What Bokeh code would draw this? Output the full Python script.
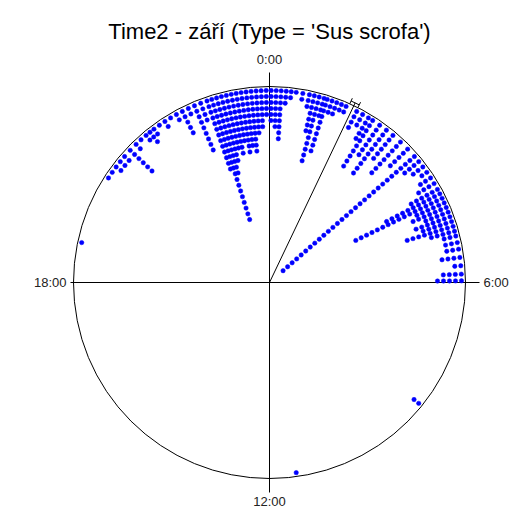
import math
from bokeh.plotting import figure
from bokeh.models import Range1d
from bokeh.core.properties import value
from bokeh.embed import file_html
from bokeh.resources import INLINE

# ---- data: observation times (stacks of identical times) ----
times = ["0:02", "0:08", "0:14", "0:20", "0:26", "0:32", "0:40", "0:48", "0:54", "1:00",
         "1:06", "1:10", "1:16", "1:22", "1:28", "1:34", "1:48", "1:56", "2:04", "2:10",
         "2:20", "2:30", "2:40", "2:52", "3:04", "3:16",
         "3:24", "3:32", "3:40", "3:48", "3:56", "4:04", "4:10", "4:16", "4:22", "4:28",
         "4:34", "4:40", "4:46", "4:52", "4:58", "5:04", "5:12", "5:20", "5:30", "5:40",
         "5:50", "5:58", "8:36", "11:28", "18:48", "20:12", "20:20", "20:28", "20:36", "20:44",
         "20:54", "21:04", "21:12", "21:20", "21:26", "21:32", "21:40", "21:48", "21:56", "22:04",
         "22:12", "22:20", "22:28", "22:36", "22:44", "22:50", "22:56", "23:02", "23:08", "23:14",
         "23:20", "23:26", "23:32", "23:38", "23:44", "23:50", "23:56"]
counts = [6, 7, 9, 3, 2, 1, 2, 3, 7, 12,
          4, 10, 3, 3, 2, 2, 4, 3, 5, 10,
          7, 10, 6, 8, 5, 30,
          4, 3, 2, 3, 4, 6, 11, 17, 6, 7,
          5, 7, 6, 9, 5, 3, 3, 3, 4, 2,
          4, 5, 2, 1, 1, 1, 1, 2, 2, 2,
          6, 2, 1, 2, 3, 2, 1, 2, 1, 2,
          5, 2, 9, 4, 13, 22, 14, 12, 10, 11,
          9, 11, 10, 11, 8, 7, 5]
mean_time = "1:42"
hour_labels = ["0:00", "6:00", "12:00", "18:00"]
title = "Time2 - září (Type = 'Sus scrofa')"

# ---- geometry (data units = pixels) ----
R = 196.0
first_r = 192.0
step = 6.0
W, H = 518, 517
cx_pix, cy_pix = 269, 282  # centre inside the figure (pixels from left/top)


def to_deg(t):
    h, m = t.split(":")
    return (int(h) * 60 + int(m)) / 1440.0 * 360.0


xs, ys = [], []
for t, c in zip(times, counts):
    a = math.radians(to_deg(t))
    for k in range(c):
        r = first_r - k * step
        xs.append(r * math.sin(a))
        ys.append(r * math.cos(a))

p = figure(width=W, height=H, output_backend="svg", toolbar_location=None,
           x_range=Range1d(-cx_pix, W - cx_pix), y_range=Range1d(-(H - cy_pix), cy_pix),
           min_border=0, x_axis_type=None, y_axis_type=None)
p.grid.visible = False
p.outline_line_color = None
p.background_fill_color = "white"
p.border_fill_color = "white"

# axes cross
ext = R + 14
p.segment(x0=[-R - 3, 0], y0=[0, -ext], x1=[ext, 0], y1=[0, ext], line_color="black", line_width=1)
# circle
p.circle(x=0, y=0, radius=R, fill_color=None, line_color="black", line_width=1)

# points
p.scatter(xs, ys, marker="circle", size=4.4, fill_color="#0000FF", line_color="#0000FF", line_width=0.5)

# mean vector
ma = math.radians(to_deg(mean_time))
mr = R + 3
p.segment(x0=[0], y0=[0], x1=[mr * math.sin(ma)], y1=[mr * math.cos(ma)], line_color="black", line_width=1)
# small CI bar at the tip
half = math.radians(1.3)
bx0, by0 = mr * math.sin(ma - half), mr * math.cos(ma - half)
bx1, by1 = mr * math.sin(ma + half), mr * math.cos(ma + half)
tk = 3
p.segment(x0=[bx0, (mr - tk) * math.sin(ma - half), (mr - tk) * math.sin(ma + half)],
          y0=[by0, (mr - tk) * math.cos(ma - half), (mr - tk) * math.cos(ma + half)],
          x1=[bx1, (mr + tk) * math.sin(ma - half), (mr + tk) * math.sin(ma + half)],
          y1=[by1, (mr + tk) * math.cos(ma - half), (mr + tk) * math.cos(ma + half)],
          line_color="black", line_width=1)

# hour labels
lab_x = [0, R + 18, 0, -R - 7]
lab_y = [R + 27, 0, -R - 23, 0]
aligns = ["center", "left", "center", "right"]
bases = ["middle", "middle", "middle", "middle"]
for lx, ly, lt, al, bl in zip(lab_x, lab_y, hour_labels, aligns, bases):
    p.text(x=[lx], y=[ly], text=[lt], text_align=al, text_baseline=bl,
           text_font=value("Liberation Sans"), text_font_size="13px", text_color="#222222")

# title
p.text(x=[0], y=[cy_pix - 31], text=[title], text_align="center", text_baseline="alphabetic",
       text_font=value("Liberation Sans"), text_font_size="22px", text_color="black")

open("out.html", "w").write(file_html(p, INLINE))
